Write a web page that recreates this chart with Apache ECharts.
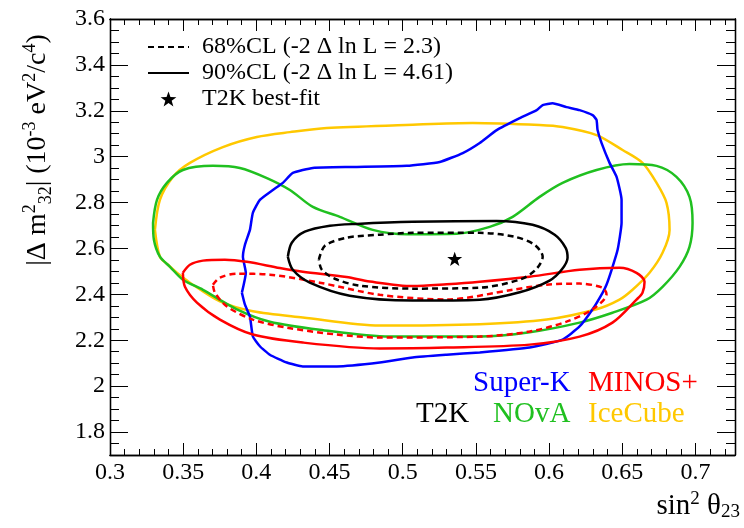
<!DOCTYPE html>
<html><head><meta charset="utf-8">
<script src="https://cdn.jsdelivr.net/npm/echarts@6/dist/echarts.min.js"></script>
<style>html,body{margin:0;padding:0;background:#fff}#c{width:744px;height:528px}</style>
</head><body><div id="c"></div>
<script>
// ---- data (sin^2 theta23, |dm^2_32| in 1e-3 eV^2) ----
const xMajor = [0.3,0.35,0.4,0.45,0.5,0.55,0.6,0.65,0.7];
const yMajor = [1.8,2,2.2,2.4,2.6,2.8,3,3.2,3.4,3.6];
const bestFit = [[0.5355,2.555]];
const t2k90 = [[0.4215,2.564],[0.4242,2.625],[0.4331,2.673],[0.4502,2.699],[0.4686,2.707],[0.5068,2.716],[0.5642,2.720],[0.5887,2.703],[0.6038,2.660],[0.6113,2.603],[0.6126,2.560],[0.6085,2.507],[0.6003,2.460],[0.5799,2.409],[0.5526,2.377],[0.5068,2.373],[0.4638,2.394],[0.4365,2.451],[0.4249,2.507],[0.4215,2.564]];
const t2k68 = [[0.4427,2.551],[0.4468,2.612],[0.4618,2.647],[0.4843,2.660],[0.5068,2.668],[0.5526,2.668],[0.5765,2.651],[0.5901,2.616],[0.5956,2.564],[0.5908,2.507],[0.5799,2.464],[0.5526,2.429],[0.5068,2.425],[0.4706,2.438],[0.4536,2.468],[0.4447,2.507],[0.4427,2.551]];
const minos90 = [[0.3498,2.494],[0.3546,2.529],[0.3635,2.547],[0.3785,2.551],[0.3935,2.542],[0.4160,2.515],[0.4317,2.499],[0.4616,2.476],[0.4775,2.456],[0.5068,2.436],[0.5300,2.444],[0.5526,2.455],[0.5867,2.477],[0.6208,2.507],[0.6481,2.516],[0.6597,2.494],[0.6652,2.455],[0.6638,2.407],[0.6597,2.377],[0.6433,2.277],[0.6208,2.216],[0.5867,2.181],[0.5300,2.168],[0.4843,2.164],[0.4317,2.190],[0.3976,2.225],[0.3751,2.290],[0.3594,2.364],[0.3512,2.433],[0.3498,2.494]];
const minos68 = [[0.3703,2.442],[0.3751,2.473],[0.3867,2.490],[0.4092,2.486],[0.4433,2.451],[0.4843,2.398],[0.5300,2.378],[0.5751,2.420],[0.5983,2.442],[0.6208,2.447],[0.6365,2.429],[0.6392,2.400],[0.6297,2.335],[0.6119,2.281],[0.5867,2.238],[0.5526,2.216],[0.4843,2.212],[0.4549,2.225],[0.4208,2.255],[0.3976,2.290],[0.3799,2.347],[0.3717,2.407],[0.3703,2.442]];
const nova = [[0.3294,2.712],[0.3321,2.812],[0.3389,2.886],[0.3498,2.942],[0.3703,2.960],[0.3887,2.951],[0.4072,2.907],[0.4229,2.855],[0.4386,2.781],[0.4570,2.738],[0.4795,2.681],[0.5027,2.662],[0.5369,2.664],[0.5594,2.694],[0.5751,2.738],[0.5935,2.825],[0.6092,2.886],[0.6324,2.942],[0.6549,2.968],[0.6734,2.960],[0.6870,2.912],[0.6959,2.825],[0.6980,2.712],[0.6959,2.607],[0.6891,2.520],[0.6775,2.433],[0.6666,2.377],[0.6433,2.320],[0.6208,2.277],[0.5867,2.235],[0.5526,2.216],[0.4911,2.216],[0.4433,2.246],[0.4092,2.281],[0.3867,2.335],[0.3635,2.420],[0.3498,2.464],[0.3410,2.520],[0.3341,2.564],[0.3300,2.638],[0.3294,2.712]];
const icecube = [[0.3307,2.681],[0.3341,2.812],[0.3430,2.912],[0.3546,2.973],[0.3771,3.042],[0.4003,3.086],[0.4229,3.107],[0.4481,3.125],[0.5020,3.138],[0.5478,3.147],[0.5935,3.138],[0.6092,3.129],[0.6324,3.094],[0.6502,3.029],[0.6638,2.973],[0.6734,2.886],[0.6802,2.799],[0.6823,2.681],[0.6775,2.581],[0.6686,2.494],[0.6570,2.420],[0.6481,2.377],[0.6324,2.335],[0.5983,2.290],[0.5526,2.270],[0.4843,2.264],[0.4317,2.299],[0.3976,2.326],[0.3751,2.369],[0.3546,2.451],[0.3457,2.494],[0.3396,2.529],[0.3341,2.564],[0.3307,2.681]];
const superK = [[0.3901,2.407],[0.3928,2.494],[0.3908,2.564],[0.3922,2.616],[0.3956,2.681],[0.3976,2.755],[0.4024,2.812],[0.4113,2.855],[0.4181,2.886],[0.4249,2.929],[0.4386,2.951],[0.4659,2.955],[0.5027,2.960],[0.5253,2.977],[0.5410,3.016],[0.5526,3.060],[0.5642,3.116],[0.5799,3.168],[0.5915,3.203],[0.5956,3.225],[0.6024,3.233],[0.6119,3.216],[0.6208,3.203],[0.6297,3.181],[0.6324,3.160],[0.6331,3.116],[0.6358,3.060],[0.6413,2.973],[0.6461,2.912],[0.6495,2.812],[0.6495,2.712],[0.6468,2.594],[0.6427,2.507],[0.6392,2.442],[0.6365,2.407],[0.6297,2.335],[0.6208,2.260],[0.6092,2.203],[0.5867,2.168],[0.5526,2.147],[0.5300,2.137],[0.5068,2.125],[0.4843,2.103],[0.4549,2.086],[0.4317,2.086],[0.4208,2.103],[0.4092,2.137],[0.4024,2.174],[0.3976,2.217],[0.3956,2.303],[0.3922,2.355],[0.3901,2.407]];
const legendNames = ['68%CL (-2 \u0394 ln L = 2.3)','90%CL (-2 \u0394 ln L = 4.61)','T2K best-fit'];

// ---- axis tick positions ----
const X_MIN = 0.3, X_MAX = 0.727, Y_MIN = 1.7, Y_MAX = 3.6;
const xMinor = []; for (let i = 0; i <= 42; i++) xMinor.push(+(0.3 + i*0.01).toFixed(2));
const yMinor = []; for (let i = 0; i <= 38; i++) yMinor.push(+(1.7 + i*0.05).toFixed(2));

const SERIF = 'Liberation Serif';
const fmt = v => String(+(+v).toFixed(2));

function xAx(pos, ticks, len, withLabel) {
  return {
    type: 'value', position: pos, min: X_MIN, max: X_MAX,
    axisLine: {show: true, onZero: false, lineStyle: {color: '#000', width: 1.3}},
    axisTick: {show: true, inside: true, length: len, customValues: ticks, lineStyle: {color: '#000', width: 1}},
    axisLabel: withLabel ? {customValues: xMajor, formatter: fmt, fontFamily: SERIF, fontSize: 24, color: '#000', margin: 6} : {show: false},
    splitLine: {show: false}
  };
}
function yAx(pos, ticks, len, withLabel) {
  return {
    type: 'value', position: pos, min: Y_MIN, max: Y_MAX,
    axisLine: {show: true, onZero: false, lineStyle: {color: '#000', width: 1.3}},
    axisTick: {show: true, inside: true, length: len, customValues: ticks, lineStyle: {color: '#000', width: 1}},
    axisLabel: withLabel ? {customValues: yMajor, formatter: fmt, fontFamily: SERIF, fontSize: 24, color: '#000', margin: 5} : {show: false},
    splitLine: {show: false}
  };
}

function contour(name, data, color, dashed, smooth) {
  return {
    type: 'line', name, data, xAxisIndex: 0, yAxisIndex: 0,
    symbol: 'none', smooth: smooth, animation: false,
    lineStyle: {color, width: 2.5, type: dashed ? [6, 4] : 'solid'},
    itemStyle: {color}
  };
}

const starPath = 'path://M0,-10L2.35,-3.24L9.51,-3.09L3.8,1.24L5.88,8.09L0,4L-5.88,8.09L-3.8,1.24L-9.51,-3.09L-2.35,-3.24Z';

const chart = echarts.init(document.getElementById('c'), null, {renderer: 'canvas'});
chart.setOption({
  animation: false,
  backgroundColor: '#fff',
  grid: {left: 110, right: 9, top: 19, bottom: 73, containLabel: false},
  xAxis: [xAx('bottom', xMajor, 12, true), xAx('bottom', xMinor, 6, false), xAx('top', xMajor, 12, false), xAx('top', xMinor, 6, false)],
  yAxis: [yAx('left', yMajor, 18, true), yAx('left', yMinor, 9, false), yAx('right', yMajor, 18, false), yAx('right', yMinor, 9, false)],
  legend: {
    left: 147, top: 34, orient: 'vertical', padding: 0, itemGap: 0,
    itemWidth: 41, itemHeight: 15, selectedMode: false,
    textStyle: {fontFamily: SERIF, fontSize: 24, color: '#000', lineHeight: 26, padding: [0, 0, 0, 8]},
    data: [
      {name: legendNames[0], itemStyle: {opacity: 0}},
      {name: legendNames[1], itemStyle: {opacity: 0}},
      {name: legendNames[2]}
    ]
  },
  series: [
    contour('IceCube', icecube, '#ffc800', false, 0.3),
    contour('NOvA', nova, '#20c020', false, 0.3),
    contour('Super-K', superK, '#0000ff', false, 0.15),
    contour('MINOS+ 90', minos90, '#ff0000', false, 0.3),
    contour('MINOS+ 68', minos68, '#ff0000', true, 0.3),
    contour(legendNames[1], t2k90, '#000', false, 0.3),
    contour(legendNames[0], t2k68, '#000', true, 0.3),
    {type: 'scatter', name: legendNames[2], data: bestFit, symbol: starPath, symbolSize: 15,
     symbolKeepAspect: true, itemStyle: {color: '#000', opacity: 1}, animation: false}
  ],
  graphic: [
    {type: 'text', x: 38, y: 150, rotation: Math.PI/2, style: {
      text: '{a||\u0394 m}{sup|2}{sub|32}{a|| (10}{sup|-3}{a| eV}{sup|2}{a|/c}{sup|4}{a|)}',
      align: 'center', verticalAlign: 'middle', fill: '#000',
      rich: {
        a: {fontFamily: SERIF, fontSize: 28, lineHeight: 34, fill: '#000'},
        sup: {fontFamily: SERIF, fontSize: 18, lineHeight: 18, verticalAlign: 'top', fill: '#000'},
        sub: {fontFamily: SERIF, fontSize: 18, lineHeight: 18, verticalAlign: 'bottom', fill: '#000'}
      }}},
    {type: 'text', x: 740, y: 506, style: {
      text: '{a|sin}{sup|2}{a| \u03b8}{sub|23}',
      align: 'right', verticalAlign: 'middle', fill: '#000',
      rich: {
        a: {fontFamily: SERIF, fontSize: 29, lineHeight: 32, fill: '#000'},
        sup: {fontFamily: SERIF, fontSize: 19, lineHeight: 19, verticalAlign: 'top', fill: '#000'},
        sub: {fontFamily: SERIF, fontSize: 19, lineHeight: 19, verticalAlign: 'bottom', fill: '#000'}
      }}},
    {type: 'text', x: 473, y: 383, style: {text: 'Super-K', fill: '#0000ff', font: '29px "Liberation Serif"', verticalAlign: 'middle'}},
    {type: 'text', x: 588, y: 383, style: {text: 'MINOS+', fill: '#ff0000', font: '29px "Liberation Serif"', verticalAlign: 'middle'}},
    {type: 'text', x: 416, y: 414, style: {text: 'T2K', fill: '#000', font: '29px "Liberation Serif"', verticalAlign: 'middle'}},
    {type: 'text', x: 493, y: 414, style: {text: 'NOvA', fill: '#20c020', font: '29px "Liberation Serif"', verticalAlign: 'middle'}},
    {type: 'text', x: 588, y: 414, style: {text: 'IceCube', fill: '#ffc800', font: '29px "Liberation Serif"', verticalAlign: 'middle'}}
  ]
});
</script></body></html>
